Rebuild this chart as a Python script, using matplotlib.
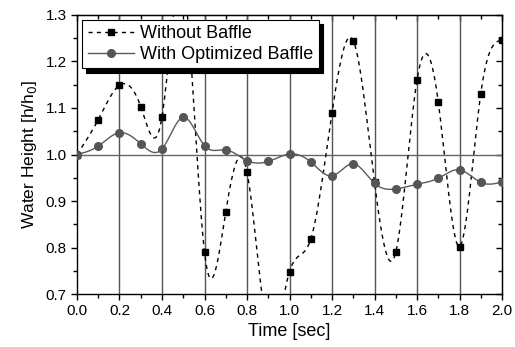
import numpy as np
import matplotlib
matplotlib.use("Agg")
import matplotlib.pyplot as plt
from matplotlib.ticker import MultipleLocator

plt.rcParams['font.family'] = ['Liberation Sans', 'DejaVu Sans']

# Time samples [sec]
time = [0.0, 0.1, 0.2, 0.3, 0.4, 0.5, 0.6, 0.7, 0.8, 0.9, 1.0,
        1.1, 1.2, 1.3, 1.4, 1.5, 1.6, 1.7, 1.8, 1.9, 2.0]

# Water height h/h0 without baffle (0.5 and 0.9 are off the visible range)
without_baffle = [1.000, 1.075, 1.149, 1.103, 1.081, 1.370, 0.790, 0.877, 0.962, 0.620, 0.748,
                  0.818, 1.090, 1.245, 0.940, 0.790, 1.160, 1.113, 0.802, 1.131, 1.246]

# Water height h/h0 with optimized baffle
with_baffle = [1.000, 1.018, 1.047, 1.023, 1.012, 1.080, 1.019, 1.010, 0.987, 0.985, 1.001,
               0.984, 0.954, 0.980, 0.938, 0.926, 0.936, 0.949, 0.967, 0.940, 0.941]


def natural_spline(x, y, xs):
    # natural cubic spline through the points, for the smooth connecting line
    x = np.asarray(x, float)
    y = np.asarray(y, float)
    n = len(x)
    h = np.diff(x)
    A = np.zeros((n, n))
    b = np.zeros(n)
    A[0, 0] = 1
    A[-1, -1] = 1
    for i in range(1, n - 1):
        A[i, i - 1] = h[i - 1]
        A[i, i] = 2 * (h[i - 1] + h[i])
        A[i, i + 1] = h[i]
        b[i] = 6 * ((y[i + 1] - y[i]) / h[i] - (y[i] - y[i - 1]) / h[i - 1])
    M = np.linalg.solve(A, b)
    idx = np.clip(np.searchsorted(x, xs) - 1, 0, n - 2)
    x0, x1 = x[idx], x[idx + 1]
    hh = x1 - x0
    t0 = x1 - xs
    t1 = xs - x0
    return (M[idx] * t0 ** 3 / (6 * hh) + M[idx + 1] * t1 ** 3 / (6 * hh)
            + (y[idx] / hh - M[idx] * hh / 6) * t0
            + (y[idx + 1] / hh - M[idx + 1] * hh / 6) * t1)


fig = plt.figure(figsize=(5.15, 3.47), dpi=100)
ax = fig.add_axes([0.1495, 0.1527, 0.8253, 0.8041])

xs = np.linspace(0, 2.0, 600)

# Grid: vertical lines at major ticks, horizontal line at 1.0
for gx in np.arange(0.2, 1.9, 0.2):
    ax.axvline(gx, color='#555555', lw=1.0, zorder=1)
ax.axhline(1.0, color='#666666', lw=1.0, zorder=1)

ax.plot(xs, natural_spline(time, without_baffle, xs), color='black', lw=1.0,
        dashes=(3, 3), zorder=2)
ax.plot(time, without_baffle, 's', color='black', ms=4.5, zorder=4)
ax.plot(xs, natural_spline(time, with_baffle, xs), color='#5a5a5a', lw=1.0, zorder=3)
ax.plot(time, with_baffle, 'o', color='#555555', ms=5.5, zorder=4)

# legend proxies
l1, = ax.plot([], [], color='black', lw=1.0, dashes=(3, 3), marker='s', ms=4.5)
l2, = ax.plot([], [], color='#5a5a5a', lw=1.0, marker='o', ms=5.5, mfc='#555555', mec='#555555')
leg = ax.legend([l1, l2], ['Without Baffle', 'With Optimized Baffle'], loc='upper left',
                bbox_to_anchor=(0.012, 0.982), borderaxespad=0, fancybox=False,
                edgecolor='black', framealpha=1, fontsize=13, handlelength=2.6,
                handletextpad=0.3, borderpad=0.3, labelspacing=0.2,
                shadow={'color': 'black', 'alpha': 1, 'ox': 3, 'oy': -3})
leg.get_frame().set_linewidth(0.8)
leg.set_zorder(10)

ax.set_xlim(0, 2.0)
ax.set_ylim(0.7, 1.3)
ax.xaxis.set_major_locator(MultipleLocator(0.2))
ax.xaxis.set_minor_locator(MultipleLocator(0.1))
ax.yaxis.set_major_locator(MultipleLocator(0.1))
ax.yaxis.set_minor_locator(MultipleLocator(0.05))
ax.xaxis.set_major_formatter(plt.FormatStrFormatter('%.1f'))
ax.yaxis.set_major_formatter(plt.FormatStrFormatter('%.1f'))
ax.tick_params(which='both', direction='out', labelsize=11, width=1.0)
ax.tick_params(which='major', length=4)
ax.tick_params(which='minor', length=3)

# Top and right axes with inward ticks
top = ax.secondary_xaxis('top')
top.xaxis.set_major_locator(MultipleLocator(0.2))
top.xaxis.set_minor_locator(MultipleLocator(0.1))
top.tick_params(which='both', direction='in', labeltop=False, width=1.0)
top.tick_params(which='major', length=4)
top.tick_params(which='minor', length=3)
right = ax.secondary_yaxis('right')
right.yaxis.set_major_locator(MultipleLocator(0.1))
right.yaxis.set_minor_locator(MultipleLocator(0.05))
right.tick_params(which='both', direction='in', labelright=False, width=1.0)
right.tick_params(which='major', length=4)
right.tick_params(which='minor', length=3)

for s in ax.spines.values():
    s.set_linewidth(1.0)

ax.set_xlabel('Time [sec]', fontsize=13, labelpad=3)
ax.set_ylabel('Water Height [h/h$_0$]', fontsize=12.5, labelpad=5)

fig.savefig('out.png', dpi=100)
